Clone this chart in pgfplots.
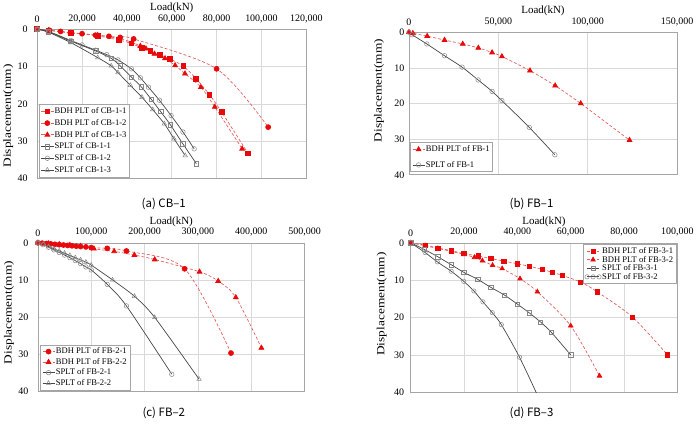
\documentclass[border=0pt]{standalone}
\usepackage{fontspec}
\setmainfont{Liberation Serif}
\newfontfamily\capfont{Noto Sans CJK KR}
\usepackage{pgfplots}
\pgfplotsset{compat=1.18}

\definecolor{redc}{RGB}{232,10,10}
\definecolor{redl}{RGB}{226,95,95}
\definecolor{darkg}{RGB}{70,70,70}
\definecolor{markg}{RGB}{135,135,135}
\definecolor{gridc}{RGB}{217,217,217}
\definecolor{framec}{RGB}{165,165,165}

\pgfplotsset{
  panel/.style={
    scale only axis, anchor=north west,
    xmin=0, ymin=0, ymax=40, y dir=reverse,
    ytick={0,10,20,30,40},
    xticklabel pos=upper,
    grid=major, major grid style={draw=gridc, line width=0.6pt},
    axis line style={draw=framec, line width=0.6pt},
    major tick length=0pt,
    scaled x ticks=false,
    tick label style={font=\fontsize{10}{12}\selectfont},
    /pgf/number format/assume math mode=true,
    xticklabel style={/pgf/number format/fixed, /pgf/number format/1000 sep={,}, yshift=3pt},
    xlabel={Load(kN)},
    ylabel={Displacement(mm)},
    xlabel style={at={([yshift=21pt]axis description cs:0.5,1)}, anchor=center, font=\fontsize{11}{13}\selectfont},
    ylabel style={anchor=center, font=\fontsize{11}{13}\selectfont, xscale=1.22},
    legend cell align=left,
    legend image code/.code={\draw[mark repeat=2,mark phase=2,##1] plot coordinates {(0pt,0pt) (6pt,0pt) (12pt,0pt)};},
    legend style={draw=framec, fill=white, font=\fontsize{8.6}{9.8}\selectfont,
      inner xsep=2pt, inner ysep=2pt, row sep=0.5pt, column sep=0pt,
      nodes={inner xsep=1pt, inner ysep=1pt}},
  },
  bdh/.style={draw=redl, line width=0.7pt, dash pattern=on 3pt off 2pt, smooth,
    mark options={solid, draw=redc, fill=redc}},
  splt/.style={draw=darkg, line width=0.7pt, smooth,
    mark options={solid, draw=markg, fill=white, line width=0.5pt}},
}

\begin{document}
\begin{tikzpicture}
\path (0,0) rectangle (698pt,421pt);

% (a) CB-1
\begin{axis}[panel, at={(35pt,396pt)}, width=270pt, height=150pt,
  xmax=120000, xtick={0,20000,40000,60000,80000,100000,120000},
  yticklabel style={xshift=-6pt},
  ylabel style={at={([xshift=-29pt]axis description cs:0,0.42)}},
  legend style={at={(0.006,0.012)}, anchor=south west, row sep=2.2pt}]
\addplot[bdh, mark=square*, mark size=2.4pt] coordinates {
(0,0) (5000,0.3) (15000,0.9) (27000,1.8) (36500,2.9) (42000,3.8) (46500,5.0)
(50500,5.8) (54800,6.9) (59000,7.9) (65200,9.9) (70800,13.2) (76800,17.5)
(82200,22.1) (94000,33.2)};
\addplot[bdh, mark=*, mark size=2.5pt] coordinates {
(0,0) (5500,0.3) (10400,0.6) (14800,1.0) (20000,1.2) (26000,1.6) (32000,1.9)
(37000,2.2) (43000,2.6) (80000,10.6) (103000,26.2)};
\addplot[bdh, mark=triangle*, mark size=2.8pt] coordinates {
(0,0) (5000,0.3) (15000,1.0) (27000,1.6) (36500,2.5) (42200,3.5) (46000,4.5)
(48500,5.2) (52300,6.6) (57000,7.8) (61500,9.7) (65900,11.9) (73000,15.5)
(79200,20.8) (91400,32.0)};
\addplot[splt, mark=square, mark size=2.3pt] coordinates {
(0,0) (5000,0.7) (15000,3.2) (26000,5.8) (33000,7.8) (37000,9.8) (42000,12.8)
(46400,15.4) (50800,18.7) (55000,22.0) (59300,25.5) (65000,30.7) (71000,36.0)};
\addplot[splt, mark=o, mark size=2.3pt] coordinates {
(0,0) (5000,0.6) (15000,3.0) (20000,4.2) (26000,5.6) (31000,6.8) (36000,8.2)
(42000,10.6) (46000,13.0) (49600,15.5) (54500,19.0) (59700,23.1) (65000,27.5)
(70000,32.0)};
\addplot[splt, mark=triangle, mark size=2.6pt] coordinates {
(0,0) (5000,0.8) (15000,3.6) (27000,7.6) (33000,9.8) (36000,11.6) (41500,15.0)
(46700,18.2) (51500,21.5) (56700,25.3) (61000,29.3) (66000,33.8)};
\legend{BDH PLT of CB-1-1, BDH PLT of CB-1-2, BDH PLT of CB-1-3,
        SPLT of CB-1-1, SPLT of CB-1-2, SPLT of CB-1-3}
\end{axis}

% (b) FB-1
\begin{axis}[panel, at={(408pt,393pt)}, width=269pt, height=143pt,
  xmax=150000, xtick={0,50000,100000,150000},
  yticklabel style={xshift=-1pt},
  ylabel style={at={([xshift=-30pt]axis description cs:0,0.59)}},
  legend style={at={(0.004,0.02)}, anchor=south west, row sep=6pt}]
\addplot[bdh, mark=triangle*, mark size=2.8pt] coordinates {
(0,0) (2200,0.3) (10200,1.1) (19900,2.2) (30100,3.3) (38800,4.4) (46500,5.7)
(52000,6.8) (67700,10.8) (81800,15.0) (96100,20.0) (123400,30.3)};
\addplot[splt, mark=o, mark size=2.3pt] coordinates {
(0,0) (1700,0.7) (10000,3.3) (19900,6.6) (29700,9.8) (38700,13.4) (46500,16.6)
(52000,19.2) (67300,26.7) (81600,34.4)};
\legend{BDH PLT of FB-1, SPLT of FB-1}
\end{axis}

% (c) FB-2
\begin{axis}[panel, at={(35.7pt,181.7pt)}, width=267.6pt, height=149pt,
  xmax=500000, xtick={0,100000,200000,300000,400000,500000},
  yticklabel style={xshift=-6pt},
  ylabel style={at={([xshift=-29pt]axis description cs:0,0.53)}},
  legend style={at={(0.008,0.008)}, anchor=south west, row sep=1pt}]
\addplot[bdh, mark=*, mark size=2.5pt] coordinates {
(0,0) (8000,0.1) (16000,0.2) (24000,0.3) (32000,0.4) (40000,0.5) (48000,0.6)
(56000,0.7) (64000,0.8) (72000,0.9) (80000,1.0) (90000,1.1) (100000,1.3)
(130000,1.5) (166000,2.2) (275000,7.0) (362000,29.7)};
\addplot[bdh, mark=triangle*, mark size=2.8pt] coordinates {
(0,0) (20000,0.2) (40000,0.4) (60000,0.6) (80000,0.9) (105000,1.6)
(143000,2.3) (181000,3.3) (219000,4.5) (303000,7.8) (338000,10.3)
(371000,14.7) (419000,28.3)};
\addplot[splt, mark=o, mark size=2.3pt] coordinates {
(0,0) (10000,0.5) (20000,1.2) (30000,1.9) (40000,2.6) (50000,3.3) (60000,4.0)
(70000,4.8) (80000,5.6) (90000,6.5) (100000,7.3) (130000,11.2) (166000,17.0)
(251000,35.4)};
\addplot[splt, mark=triangle, mark size=2.6pt] coordinates {
(0,0) (10000,0.4) (20000,1.0) (30000,1.6) (40000,2.2) (50000,2.8) (60000,3.4)
(70000,4.0) (80000,4.6) (90000,5.2) (100000,6.0) (140000,10.0) (181000,14.4)
(219000,20.1) (302000,36.7)};
\legend{BDH PLT of FB-2-1, BDH PLT of FB-2-2, SPLT of FB-2-1, SPLT of FB-2-2}
\end{axis}

% (d) FB-3
\begin{axis}[panel, at={(409.7pt,181.7pt)}, width=267.6pt, height=150pt,
  xmax=100000, xtick={0,20000,40000,60000,80000,100000},
  yticklabel style={xshift=-3pt},
  ylabel style={at={([xshift=-29pt]axis description cs:0,0.59)}},
  legend style={at={(0.996,0.99)}, anchor=north east, row sep=-1pt}]
\addplot[bdh, mark=square*, mark size=2.2pt] coordinates {
(0,0) (5400,0.6) (10200,1.4) (15300,2.1) (20000,2.9) (25300,3.5) (30000,4.2)
(35000,4.9) (40000,5.6) (44600,6.3) (49300,7.1) (53100,7.9) (56800,8.7)
(63700,10.5) (69900,13.1) (83200,19.9) (96300,30.0)};
\addplot[bdh, mark=triangle*, mark size=2.6pt] coordinates {
(0,0) (5400,0.8) (10200,1.5) (15300,2.3) (20000,3.1) (23900,3.9) (26900,4.8)
(30700,6.0) (34300,6.9) (41000,9.6) (47500,13.1) (60000,22.2) (70800,35.6)};
\addplot[splt, mark=square, mark size=2.2pt] coordinates {
(0,0) (5200,1.8) (10100,3.7) (15300,5.9) (19900,7.9) (25200,9.8) (30000,11.9)
(35200,14.0) (40000,16.4) (44400,18.7) (48700,21.2) (52800,24.0) (60000,30.0)};
\addplot[splt, mark=o, mark size=2.2pt, mark indices={1,2,...,10}] coordinates {
(0,0) (5400,2.6) (10000,5.1) (15200,7.6) (19900,10.3) (23700,12.9)
(27100,15.8) (30600,18.7) (34000,21.9) (40800,30.6) (48000,41.5)};
\legend{BDH PLT of FB-3-1, BDH PLT of FB-3-2, SPLT of FB-3-1, SPLT of FB-3-2}
\end{axis}

% panel captions
\node[font=\capfont\fontsize{11.5}{13}\selectfont] at (162pt,221pt) {(a) CB–1};
\node[font=\capfont\fontsize{11.5}{13}\selectfont] at (531pt,221pt) {(b) FB–1};
\node[font=\capfont\fontsize{11.5}{13}\selectfont] at (162pt,11pt) {(c) FB–2};
\node[font=\capfont\fontsize{11.5}{13}\selectfont] at (531pt,11pt) {(d) FB–3};
\end{tikzpicture}
\end{document}
